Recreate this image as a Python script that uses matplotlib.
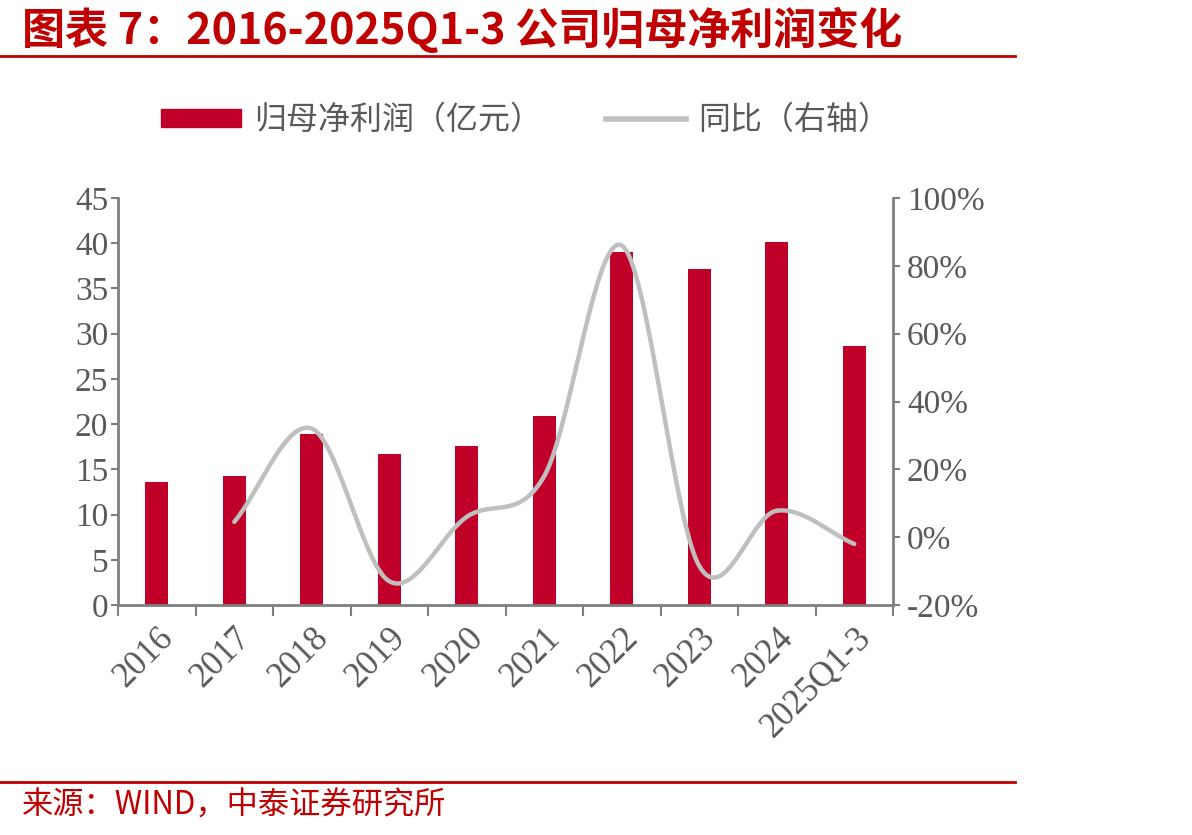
import numpy as np
import matplotlib
matplotlib.use('Agg')
import matplotlib.pyplot as plt
from matplotlib.patches import Patch
from matplotlib.lines import Line2D

plt.rcParams['font.family'] = ['Liberation Serif', 'Noto Sans CJK SC', 'DejaVu Sans']

# data
categories = ['2016', '2017', '2018', '2019', '2020', '2021', '2022', '2023', '2024', '2025Q1-3']
profit = [13.6, 14.3, 18.9, 16.7, 17.6, 20.9, 39.0, 37.2, 40.1, 28.6]   # 亿元
yoy = [np.nan, 4.5, 32.0, -13.0, 6.0, 18.0, 86.0, -8.5, 7.8, -2.0]    # %

red = '#C00029'
gray_line = '#BFBFBF'
axis_gray = '#7F7F7F'
text_gray = '#595959'
cjk = ['Noto Sans CJK SC', 'DejaVu Sans']


def smooth(xs, ys, n=40):
    # Catmull-Rom spline through the points (like Excel's smoothed line)
    px = np.concatenate([[2 * xs[0] - xs[1]], xs, [2 * xs[-1] - xs[-2]]])
    py = np.concatenate([[2 * ys[0] - ys[1]], ys, [2 * ys[-1] - ys[-2]]])
    outx, outy = [], []
    t = np.linspace(0, 1, n)
    for i in range(1, len(px) - 2):
        for p, out in ((px, outx), (py, outy)):
            p0, p1, p2, p3 = p[i - 1], p[i], p[i + 1], p[i + 2]
            out.extend(0.5 * ((2 * p1) + (-p0 + p2) * t
                              + (2 * p0 - 5 * p1 + 4 * p2 - p3) * t ** 2
                              + (-p0 + 3 * p1 - 3 * p2 + p3) * t ** 3))
    return np.array(outx), np.array(outy)


fig = plt.figure(figsize=(11.92, 8.35), dpi=100)
ax = fig.add_axes([118 / 1192, 1 - 605 / 835, (893 - 118) / 1192, (605 - 198) / 835])
ax2 = ax.twinx()

x = np.arange(len(categories))
ax.bar(x, profit, width=0.3, color=red, zorder=2)
ax.set_xlim(-0.5, len(categories) - 0.5)
ax.set_ylim(0, 45)
ax.set_yticks(range(0, 46, 5))

yy = np.array(yoy)
ok = ~np.isnan(yy)
sx, sy = smooth(x[ok].astype(float), yy[ok])
ax2.plot(sx, sy, color=gray_line, lw=3.2, solid_capstyle='round', zorder=3)
ax2.set_ylim(-20, 100)
ax2.set_yticks(range(-20, 101, 20))
ax2.set_yticklabels([f'{v}%' for v in range(-20, 101, 20)])

ax.set_zorder(ax2.get_zorder() - 1)
ax.patch.set_visible(False)

for a in (ax, ax2):
    for s in a.spines.values():
        s.set_visible(False)
    a.tick_params(colors=axis_gray, labelcolor=text_gray, width=1.5, length=5,
                  labelsize=24, direction='out')
ax.tick_params(axis='y', pad=2)
ax2.tick_params(axis='y', pad=5)
ax.spines['left'].set_visible(True)
ax.spines['bottom'].set_visible(True)
ax2.spines['right'].set_visible(True)
for s in (ax.spines['left'], ax.spines['bottom'], ax2.spines['right']):
    s.set_color(axis_gray)
    s.set_linewidth(2)

ax.set_xticks(np.arange(-0.5, len(categories), 1.0))
ax.set_xticklabels([])
ax.tick_params(axis='x', length=8)
ax.set_xticks(x, minor=True)
ax.set_xticklabels(categories, minor=True, rotation=45, ha='right', va='top',
                   rotation_mode='anchor', fontsize=25, color=text_gray)
ax.tick_params(axis='x', which='minor', length=0, pad=12)

handles = [Patch(facecolor=red, edgecolor=red),
           Line2D([0], [0], color=gray_line, lw=4)]
fig.legend(handles, ['归母净利润（亿元）', '同比（右轴）'], loc='center',
           bbox_to_anchor=(526 / 1192, 1 - 120 / 835), ncol=2, frameon=False,
           prop={'family': cjk, 'size': 23}, labelcolor=text_gray,
           handlelength=2.5, handleheight=0.5, handletextpad=0.4,
           columnspacing=2.0)

fig.text(22 / 1192, 1 - 30 / 835, '图表 7：2016-2025Q1-3 公司归母净利润变化',
         family=cjk, fontsize=31, fontweight='bold', fontstyle='italic',
         color='#C00000', va='center', ha='left')
fig.add_artist(Line2D([0, 1015 / 1192], [1 - 56 / 835] * 2, color='#C00000', lw=2))
fig.add_artist(Line2D([0, 1015 / 1192], [1 - 782 / 835] * 2, color='#C00000', lw=2))
fig.text(22 / 1192, 1 - 806 / 835, '来源：WIND，中泰证券研究所', family=cjk,
         fontsize=22.5, color='#C00000', va='center', ha='left')

fig.savefig('out.png', dpi=100)
